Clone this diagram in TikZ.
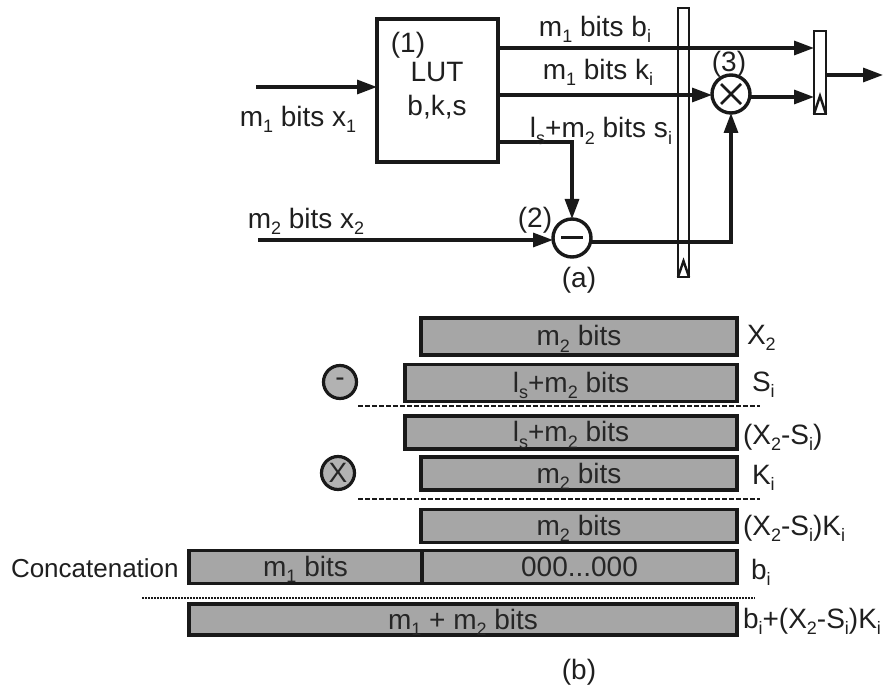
\documentclass[tikz,border=0pt]{standalone}
\usepackage{fontspec}
\setmainfont{Liberation Sans}
\usetikzlibrary{arrows.meta,calc}
\newcommand\sbs[1]{\raisebox{-0.22em}{\fontsize{18}{18}\selectfont #1}}
\tikzset{
 every node/.style={inner sep=0pt,outer sep=0pt},
 lab/.style={font=\fontsize{28}{32}\selectfont,text=black!88,align=center},
 arr/.style={line width=3.2pt,draw=black!90,-{Triangle[length=20pt,width=14pt]}},
 wire/.style={line width=2.4pt,draw=black!90},
 regbox/.style={draw=black!90,line width=2.8pt,rectangle},
 lutbox/.style={draw=black!90,line width=3.4pt,rectangle,minimum width=121pt,minimum height=143pt},
 opc/.style={draw=black!90,line width=3.4pt,circle,minimum size=38pt},
 bar/.style={draw=black!90,line width=3.2pt,fill=black!35,rectangle,text=black!85,font=\fontsize{28}{32}\selectfont,text height=24pt,text depth=5pt},
 dsh/.style={line width=2.8pt,draw=black!90,dash pattern=on 4.5pt off 2.5pt},
 opb/.style={draw=black!90,line width=3.2pt,fill=black!30,circle,minimum size=33pt,font=\fontsize{28}{32}\selectfont,text=black!85},
}
\begin{document}
\begin{tikzpicture}[x=1pt,y=-1pt]
\useasboundingbox (0,0) rectangle (889,692);
% (a)
\node[lutbox] (lut) at (437.5,90.5) {};
\node[lab] (n1) at (408,45) {(1)};
\node[lab] (nlut) at (437,72) {LUT};
\node[lab] (nbks) at (437,107) {b,k,s};
\node[regbox,minimum width=11pt,minimum height=269pt] (reg1) at (683.5,142.5) {};
\node[regbox,minimum width=12pt,minimum height=83pt] (reg2) at (820,72.5) {};
\draw[wire] (reg1.south west) -- ($(reg1.south)+(0,-16)$) -- (reg1.south east);
\draw[wire] (reg2.south west) -- ($(reg2.south)+(0,-18)$) -- (reg2.south east);
\node[opc] (minus) at (572,238) {};
\node[opc] (times) at (731,94) {};
\draw[line width=3pt,draw=black!90] ($(minus.center)+(-11,0)$) coordinate (ma) -- ($(minus.center)+(11,0)$) coordinate (mb);
\draw[line width=2.8pt,draw=black!90] ($(times.center)+(-10,-10)$) coordinate (ta) -- ($(times.center)+(10,10)$) coordinate (tb);
\draw[line width=2.8pt,draw=black!90] ($(times.center)+(-10,10)$) coordinate (tc) -- ($(times.center)+(10,-10)$) coordinate (td);
\coordinate (x1s) at (256,87);
\coordinate (x2s) at (258,240);
\coordinate (yb) at (0,48);
\coordinate (yk) at (0,95);
\coordinate (ys) at (0,142);
\coordinate (ym) at (0,242);
\coordinate (yo) at (0,97);
\coordinate (yr) at (0,75);
\coordinate (rout) at (883,75);
\draw[arr] (x1s) -- (x1s -| lut.west);
\draw[arr] (lut.east |- yb) -- (reg2.west |- yb);
\draw[arr] (lut.east |- yk) -- (times.west |- yk);
\draw[arr] (lut.east |- ys) -- (minus.north |- ys) -- (minus.north);
\draw[arr] (x2s) -- (minus.west |- x2s);
\draw[arr] (minus.east |- ym) -- (times.south |- ym) -- (times.south);
\draw[arr] (times.east |- yo) -- (reg2.west |- yo);
\draw[arr] (reg2.east |- yr) -- (rout);
\node[lab] (lb) at (595,29) {m\sbs{1} bits b\sbs{i}};
\node[lab] (lk) at (598,72) {m\sbs{1} bits k\sbs{i}};
\node[lab] (ls) at (601,131) {l\sbs{s}+m\sbs{2} bits s\sbs{i}};
\node[lab] (lx1) at (298,119) {m\sbs{1} bits x\sbs{1}};
\node[lab] (lx2) at (306,221) {m\sbs{2} bits x\sbs{2}};
\node[lab] (n2) at (535,220) {(2)};
\node[lab] (n3) at (729,64) {(3)};
\node[lab] (ca) at (579,280) {(a)};
% (b)
\node[bar,minimum width=316pt,minimum height=37pt] (r1) at (579,336.5) {m\sbs{2} bits};
\node[bar,minimum width=332pt,minimum height=37pt] (r2) at (571,383) {l\sbs{s}+m\sbs{2} bits};
\node[bar,minimum width=332pt,minimum height=33pt] (r3) at (571,432.5) {l\sbs{s}+m\sbs{2} bits};
\node[bar,minimum width=316pt,minimum height=33pt] (r4) at (579,473.5) {m\sbs{2} bits};
\node[bar,minimum width=316pt,minimum height=33pt] (r5) at (579,526) {m\sbs{2} bits};
\node[bar,minimum width=233pt,minimum height=33pt] (r6a) at (305.5,567) {m\sbs{1} bits};
\node[bar,minimum width=315pt,minimum height=33pt] (r6b) at (579.5,567) {000...000};
\node[bar,minimum width=548pt,minimum height=31pt] (r7) at (463,619.5) {m\sbs{1} + m\sbs{2} bits};
\coordinate (d1a) at (358,406); \coordinate (d1b) at (760,406);
\coordinate (d2a) at (358,499); \coordinate (d2b) at (760,499);
\coordinate (d3a) at (142,598); \coordinate (d3b) at (755,598);
\draw[dsh] (d1a) -- (d1b);
\draw[dsh] (d2a) -- (d2b);
\draw[line width=2.4pt,draw=black!90,dash pattern=on 2pt off 1pt] (d3a) -- (d3b);
\node[opb] (om) at (340,382) {-};
\node[opb] (ox) at (338,473) {X};
\node[lab,anchor=west] (t1) at (747,338) {X\sbs{2}};
\node[lab,anchor=west] (t2) at (752,385) {S\sbs{i}};
\node[lab,anchor=west] (t3) at (743,437) {(X\sbs{2}-S\sbs{i})};
\node[lab,anchor=west] (t4) at (752,478) {K\sbs{i}};
\node[lab,anchor=west] (t5) at (743,528) {(X\sbs{2}-S\sbs{i})K\sbs{i}};
\node[lab,anchor=west] (t6) at (751,572) {b\sbs{i}};
\node[lab,anchor=west] (t7) at (743,621) {b\sbs{i}+(X\sbs{2}-S\sbs{i})K\sbs{i}};
\node[lab,anchor=west,font=\fontsize{26}{30}\selectfont] (t8) at (11,568) {Concatenation};
\node[lab] (cb) at (579,672) {(b)};
\end{tikzpicture}
\end{document}
